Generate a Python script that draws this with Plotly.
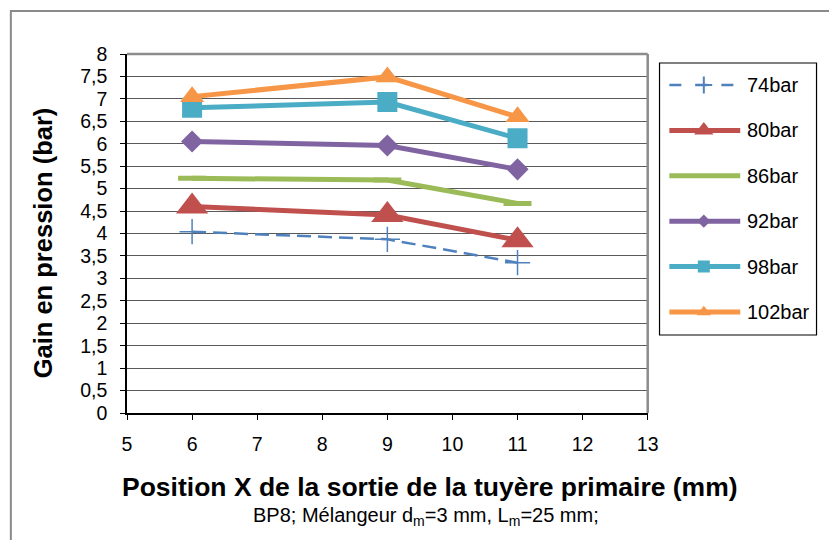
import plotly.graph_objects as go

# Primary nozzle exit position (mm)
x_pos = [6, 9, 11]

series_names = ["74bar", "80bar", "86bar", "92bar", "98bar", "102bar"]
gain_74 = [4.04, 3.87, 3.35]
gain_80 = [4.60, 4.41, 3.85]
gain_86 = [5.23, 5.19, 4.67]
gain_92 = [6.05, 5.96, 5.43]
gain_98 = [6.80, 6.93, 6.12]
gain_102 = [7.05, 7.49, 6.60]
gains = [gain_74, gain_80, gain_86, gain_92, gain_98, gain_102]

colors = ["#4F81BD", "#C0504D", "#9BBB59", "#8064A2", "#4BACC6", "#F79646"]
symbols = ["cross-thin", "triangle-up", "line-ew", "diamond", "square", "triangle-up"]
msizes = [18, 28, 20, 17, 20, 21]
lwidths = [2.5, 5, 5, 5, 5, 5]
dashes = ["14px,7px", "solid", "solid", "solid", "solid", "solid"]

FONT = "Liberation Sans, Arial, sans-serif"
W, H = 829, 540
ML, MR, MT, MB = 127, 0, 54, 127
pw = W - ML - MR           # paper width in px
ph = H - MT - MB           # paper height in px
plot_right = 656           # right edge of the plotting area (px)
x_dom_end = (plot_right - ML) / pw


def px_x(p):
    return (p - ML) / pw


def px_y(p):
    return (H - MB - p) / ph


fig = go.Figure()

for name, g, c, s, ms, lw, d in zip(series_names, gains, colors, symbols, msizes, lwidths, dashes):
    if s == "cross-thin":
        mline = dict(color=c, width=1.5)
    elif s == "line-ew":
        mline = dict(color=c, width=lw)
    else:
        mline = dict(color=c, width=0)
    fig.add_trace(go.Scatter(
        x=x_pos, y=g, name=name, mode="lines+markers",
        line=dict(color=c, width=lw, dash=d),
        marker=dict(symbol=s, size=ms, color=c, line=mline),
        showlegend=False, xaxis="x", yaxis="y",
    ))

# Legend drawn on its own small axis pair
leg_left, leg_right, leg_top, leg_bottom = 668, 829, 63, 335
item_y0, item_step = 22, 45.4
legend_labels = []
for i, (name, c, s, ms, lw, d) in enumerate(zip(series_names, colors, symbols, msizes, lwidths, dashes)):
    yy = item_y0 + i * item_step
    fig.add_trace(go.Scatter(
        x=[10, 82], y=[yy, yy], mode="lines",
        line=dict(color=c, width=lw, dash=("12px,14px" if d != "solid" else d)),
        showlegend=False, xaxis="x2", yaxis="y2", hoverinfo="skip",
    ))
    if s != "line-ew":
        is_cross = s == "cross-thin"
        fig.add_trace(go.Scatter(
            x=[45], y=[yy], mode="markers",
            marker=dict(symbol=s, size=(12 if is_cross else ms * 0.6), color=c,
                        line=dict(color=c, width=2 if is_cross else 0)),
            showlegend=False, xaxis="x2", yaxis="y2", hoverinfo="skip",
        ))
    legend_labels.append(dict(
        x=87, y=yy, xref="x2", yref="y2", text=name, showarrow=False,
        xanchor="left", yanchor="middle",
        font=dict(family=FONT, size=20, color="black")))

shapes = [
    # outer chart frame (open to the right and bottom)
    dict(type="rect", xref="paper", yref="paper",
         x0=px_x(9), x1=1.5, y0=-0.7, y1=px_y(11),
         line=dict(color="#8a8a8a", width=2)),
    # plot area top and right borders
    dict(type="line", xref="paper", yref="paper", x0=0, x1=x_dom_end, y0=1, y1=1,
         line=dict(color="#8c8c8c", width=2.5)),
    dict(type="line", xref="paper", yref="paper", x0=x_dom_end, x1=x_dom_end, y0=0, y1=1,
         line=dict(color="#8c8c8c", width=2.5)),
    # legend box
    dict(type="rect", xref="paper", yref="paper",
         x0=px_x(leg_left), x1=px_x(leg_right - 1.5), y0=px_y(leg_bottom), y1=px_y(leg_top),
         line=dict(color="black", width=1.2)),
]

annotations = legend_labels + [
    dict(text="<b>Position X de la sortie de la tuyère primaire (mm)</b>",
         x=px_x(435), y=px_y(487), xref="paper", yref="paper", showarrow=False,
         xanchor="center", yanchor="middle", font=dict(family=FONT, size=26.5, color="black")),
    dict(text="BP8; Mélangeur d<sub>m</sub>=3 mm, L<sub>m</sub>=25 mm;",
         x=px_x(431), y=px_y(516), xref="paper", yref="paper", showarrow=False,
         xanchor="center", yanchor="middle", font=dict(family=FONT, size=20, color="black")),
    dict(text="<b>Gain en pression (bar)</b>", textangle=-90,
         x=px_x(42), y=px_y(243), xref="paper", yref="paper", showarrow=False,
         xanchor="center", yanchor="middle", font=dict(family=FONT, size=25.5, color="black")),
]

fig.update_layout(
    width=W, height=H,
    margin=dict(l=ML, r=MR, t=MT, b=MB),
    paper_bgcolor="white", plot_bgcolor="white",
    separators=", ",
    showlegend=False,
    font=dict(family=FONT, size=19, color="black"),
    xaxis=dict(domain=[0, x_dom_end], range=[5, 13], dtick=1, tick0=5,
               showgrid=False, zeroline=False,
               showline=True, linecolor="black", linewidth=1.5,
               ticks="outside", ticklen=5, tickcolor="black", tickwidth=1.2,
               tickfont=dict(family=FONT, size=19.5, color="black"),
               ticklabelstandoff=8, anchor="y"),
    yaxis=dict(domain=[0, 1], range=[0, 8], dtick=0.5, tick0=0,
               showgrid=True, gridcolor="#5a5a5a", gridwidth=1.3,
               zeroline=False,
               showline=True, linecolor="black", linewidth=1.5,
               ticks="outside", ticklen=5, tickcolor="black", tickwidth=1.2,
               tickfont=dict(family=FONT, size=19.5, color="black"),
               ticklabelstandoff=9, anchor="x"),
    xaxis2=dict(domain=[px_x(leg_left), 1], range=[0, leg_right - leg_left],
                visible=False, fixedrange=True, anchor="y2"),
    yaxis2=dict(domain=[px_y(leg_bottom), px_y(leg_top)], range=[leg_bottom - leg_top, 0],
                visible=False, fixedrange=True, anchor="x2"),
    shapes=shapes,
    annotations=annotations,
)

fig.write_html("out.html")
